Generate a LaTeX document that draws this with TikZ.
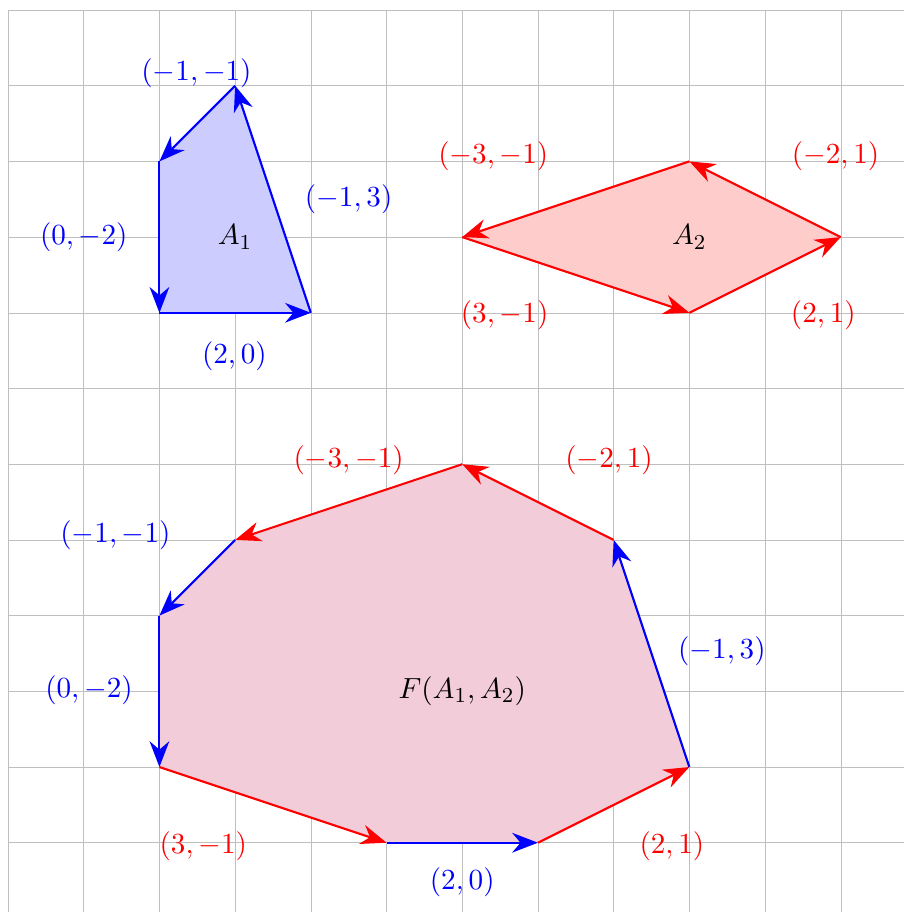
\documentclass[tikz,border=0pt]{standalone}
\usetikzlibrary{arrows.meta}
\begin{document}
\begin{tikzpicture}[x=1cm,y=1cm,font=\fontsize{10.95}{13.6}\selectfont,
  vec/.style={thick,-{Stealth[length=3.4mm,width=2.6mm,inset=1.1mm]}},
  bl/.style={text=blue},
  rd/.style={text=red}]
\useasboundingbox (-0.106,-0.915) rectangle (11.836,11.132);
\draw[help lines,gray!50] (0,-0.915) grid (11.836,11);
% A1
\coordinate (a1) at (3,10);
\coordinate (a2) at (2,9);
\coordinate (a3) at (2,7);
\coordinate (a4) at (4,7);
\fill[blue!20] (a1) -- (a2) -- (a3) -- (a4) -- cycle;
\draw[vec,blue] (a1) -- (a2);
\draw[vec,blue] (a2) -- (a3);
\draw[vec,blue] (a3) -- (a4);
\draw[vec,blue] (a4) -- (a1);
\node[bl] (la1) at (2.49,10.16) {$(-1,-1)$};
\node[bl] (la2) at (1.0,8.0) {$(0,-2)$};
\node[bl] (la3) at (2.99,6.42) {$(2,0)$};
\node[bl] (la4) at (4.5,8.5) {$(-1,3)$};
\node (A1) at (3,8) {$A_1$};
% A2
\coordinate (b1) at (9,9);
\coordinate (b2) at (6,8);
\coordinate (b3) at (9,7);
\coordinate (b4) at (11,8);
\fill[red!20] (b1) -- (b2) -- (b3) -- (b4) -- cycle;
\draw[vec,red] (b1) -- (b2);
\draw[vec,red] (b2) -- (b3);
\draw[vec,red] (b3) -- (b4);
\draw[vec,red] (b4) -- (b1);
\node[rd] (lb1) at (6.41,9.07) {$(-3,-1)$};
\node[rd] (lb2) at (10.93,9.07) {$(-2,1)$};
\node[rd] (lb3) at (6.56,6.97) {$(3,-1)$};
\node[rd] (lb4) at (10.77,6.97) {$(2,1)$};
\node (A2) at (9,8) {$A_2$};
% F
\coordinate (f1) at (6,5);
\coordinate (f2) at (3,4);
\coordinate (f3) at (2,3);
\coordinate (f4) at (2,1);
\coordinate (f5) at (5,0);
\coordinate (f6) at (7,0);
\coordinate (f7) at (9,1);
\coordinate (f8) at (8,4);
\fill[purple!20] (f1) -- (f2) -- (f3) -- (f4) -- (f5) -- (f6) -- (f7) -- (f8) -- cycle;
\draw[vec,red] (f1) -- (f2);
\draw[vec,blue] (f2) -- (f3);
\draw[vec,blue] (f3) -- (f4);
\draw[vec,red] (f4) -- (f5);
\draw[vec,blue] (f5) -- (f6);
\draw[vec,red] (f6) -- (f7);
\draw[vec,blue] (f7) -- (f8);
\draw[vec,red] (f8) -- (f1);
\node[rd] (lf1) at (4.5,5.05) {$(-3,-1)$};
\node[rd] (lf2) at (7.94,5.05) {$(-2,1)$};
\node[bl] (lf3) at (1.42,4.06) {$(-1,-1)$};
\node[bl] (lf4) at (1.07,2.01) {$(0,-2)$};
\node (F) at (6,2) {$F(A_1,A_2)$};
\node[bl] (lf5) at (9.43,2.53) {$(-1,3)$};
\node[rd] (lf6) at (2.58,-0.04) {$(3,-1)$};
\node[bl] (lf7) at (6.0,-0.52) {$(2,0)$};
\node[rd] (lf8) at (8.77,-0.04) {$(2,1)$};
\end{tikzpicture}
\end{document}
